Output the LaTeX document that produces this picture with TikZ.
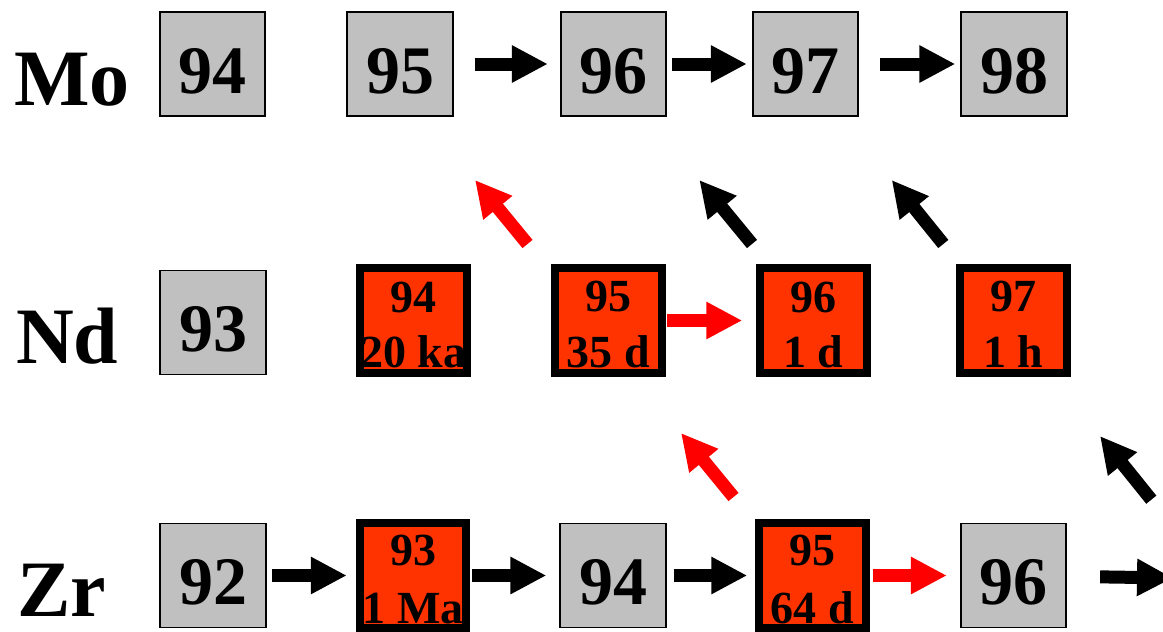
\documentclass[tikz,border=0pt]{standalone}
\usepackage{fontspec}
\setmainfont{Liberation Serif}
\usetikzlibrary{arrows.meta,calc}
\definecolor{isogray}{HTML}{C0C0C0}
\definecolor{isored}{HTML}{FF3300}
\definecolor{flowred}{HTML}{FF0000}

\begin{document}
\begin{tikzpicture}[x=1pt,y=-1pt,
  stable/.style={draw=black, line width=1.8pt, fill=isogray,
    minimum width=105.5pt, minimum height=104pt, inner sep=0pt,
    font=\fontsize{68}{68}\selectfont\bfseries, text height=58pt, text depth=0pt},
  unstable/.style={draw=black, line width=8pt, fill=isored,
    minimum width=106.5pt, minimum height=105pt, inner sep=0pt},
  halflife/.style={font=\fontsize{46}{46}\selectfont\bfseries, anchor=base, inner sep=0pt},
  elem/.style={font=\fontsize{80}{80}\selectfont\bfseries, anchor=base west, inner sep=0pt},
  flow/.style={line width=13pt, -{Triangle[width=35pt,length=36pt]}},
]
\useasboundingbox (0,0) rectangle (1163,632);
\clip (0,0) rectangle (1163,632);

% element labels
\node[elem] (mo) at (14,105) {Mo};
\node[elem] (nd) at (16,363) {Nd};
\node[elem] (zr) at (17,616) {Zr};

% Mo row
\node[stable] (m94) at (212.5,64) {94};
\node[stable] (m95) at (400,64) {95};
\node[stable] (m96) at (613.5,64) {96};
\node[stable] (m97) at (805.5,64) {97};
\node[stable] (m98) at (1014,64) {98};

% Nd row
\node[stable] (n93) at (213,322.5) {93};
\node[unstable] (n94) at (413.5,320.5) {};
\node[unstable] (n95) at (608.5,320.5) {};
\node[unstable] (n96) at (813.5,320.5) {};
\node[unstable] (n97) at (1013.5,320.5) {};
\node[halflife] (n94a) at ($(n94.center)+(0,-8)$) {94};
\node[halflife] (n94b) at ($(n94.center)+(0,47)$) {20 ka};
\node[halflife] (n95a) at ($(n95.center)+(0,-9)$) {95};
\node[halflife] (n95b) at ($(n95.center)+(0,47)$) {35 d};
\node[halflife] (n96a) at ($(n96.center)+(0,-8)$) {96};
\node[halflife] (n96b) at ($(n96.center)+(0,47)$) {1 d};
\node[halflife] (n97a) at ($(n97.center)+(0,-9)$) {97};
\node[halflife] (n97b) at ($(n97.center)+(0,47)$) {1 h};

% Zr row
\node[stable] (z92) at (213,575.5) {92};
\node[unstable] (z93) at (413,575.5) {};
\node[stable] (z94) at (613,575.5) {94};
\node[unstable] (z95) at (812.5,575.5) {};
\node[stable] (z96) at (1013.5,575.5) {96};
\node[halflife] (z93a) at ($(z93.center)+(0,-10)$) {93};
\node[halflife] (z93b) at ($(z93.center)+(0,47.5)$) {1 Ma};
\node[halflife] (z95a) at ($(z95.center)+(0,-10)$) {95};
\node[halflife] (z95b) at ($(z95.center)+(0,47.5)$) {64 d};

% neutron capture
\draw[flow, shorten <=21pt, shorten >=12pt] (m95) -- (m96);
\draw[flow, shorten <=5pt, shorten >=5pt] (m96) -- (m97);
\draw[flow, shorten <=21pt, shorten >=5pt] (m97) -- (m98);
\draw[flow, flowred, shorten <=1pt, shorten >=14pt] (n95) -- (n96);
\draw[flow, shorten <=5pt, shorten >=9pt] (z92) -- (z93);
\draw[flow, shorten <=2pt, shorten >=13pt] (z93) -- (z94);
\draw[flow, shorten <=7pt, shorten >=8pt] (z94) -- (z95);
\draw[flow, flowred, shorten <=3pt, shorten >=13pt] (z95) -- (z96);
\coordinate (zout) at (1173,578);
\draw[flow, shorten <=33pt] (z96) -- (zout);

% beta decay
\coordinate (d1s) at (527.5,244);  \coordinate (d1e) at (475,180);
\coordinate (d2s) at (752,244);    \coordinate (d2e) at (699.3,180);
\coordinate (d3s) at (943.3,244);  \coordinate (d3e) at (891.7,180);
\coordinate (d4s) at (733.5,497);  \coordinate (d4e) at (681,433);
\coordinate (d5s) at (1151.3,499.7); \coordinate (d5e) at (1100,436);
\draw[flow, flowred] (d1s) -- (d1e);
\draw[flow] (d2s) -- (d2e);
\draw[flow] (d3s) -- (d3e);
\draw[flow, flowred] (d4s) -- (d4e);
\draw[flow] (d5s) -- (d5e);
\end{tikzpicture}
\end{document}
